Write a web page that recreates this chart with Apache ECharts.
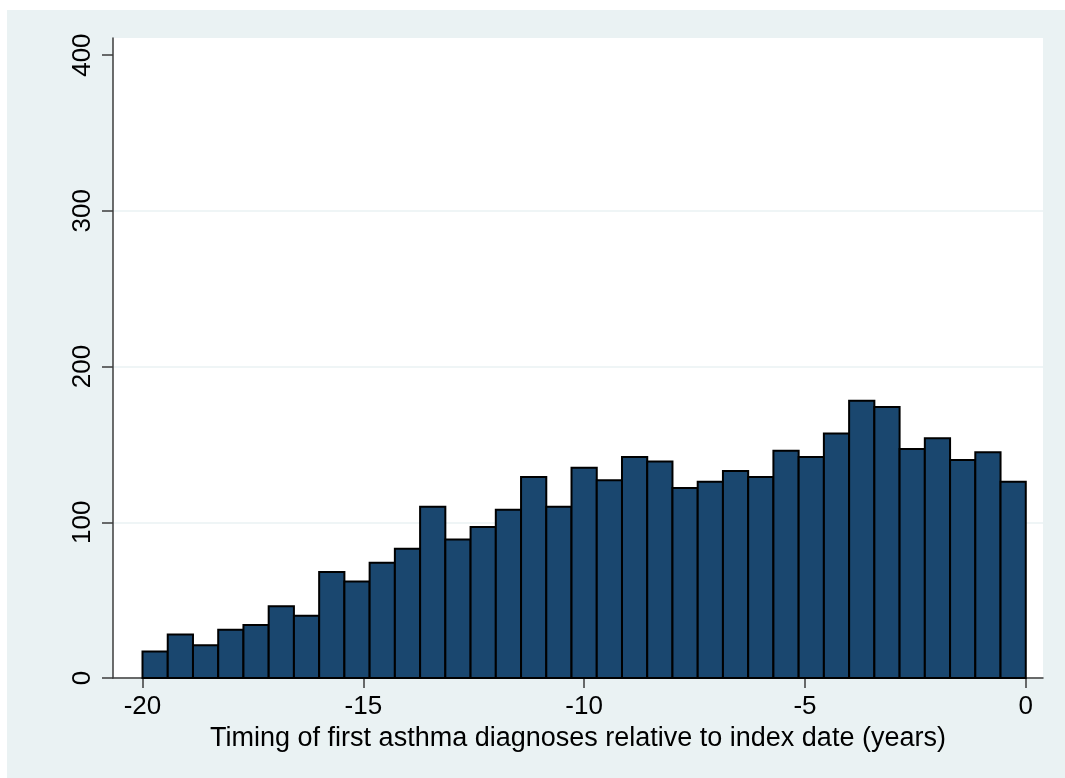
<!DOCTYPE html>
<html>
<head>
<meta charset="utf-8">
<script src="https://cdn.jsdelivr.net/npm/echarts@6/dist/echarts.min.js"></script>
<style>
html,body{margin:0;padding:0;background:#ffffff;}
#chart{width:1065px;height:778px;}
</style>
</head>
<body>
<div id="chart"></div>
<script>
// Histogram: 35 equal-width bins from -20 to 0 years
const binStart = -20;
const binEnd = 0;
const counts = [17, 28, 21, 31, 34, 46, 40, 68, 62, 74, 83, 110, 89, 97, 108, 129, 110, 135, 127, 142, 139, 122, 126, 133, 129, 146, 142, 157, 178, 174, 147, 154, 140, 145, 126];
const xTicks = [-20, -15, -10, -5, 0];
const yTicks = [0, 100, 200, 300, 400];
const xTitle = 'Timing of first asthma diagnoses relative to index date (years)';

const binWidth = (binEnd - binStart) / counts.length;
const histData = counts.map((c, i) => [binStart + i * binWidth, binStart + (i + 1) * binWidth, c]);

const FONT = "'Liberation Sans', Arial, sans-serif";
const chart = echarts.init(document.getElementById('chart'), null, {renderer: 'canvas'});
chart.setOption({
  animation: false,
  backgroundColor: '#ffffff',
  graphic: [{
    type: 'rect', z: -10, silent: true,
    shape: {x: 7, y: 10, width: 1058, height: 768},
    style: {fill: '#eaf2f3'}
  }],
  grid: {
    show: true, backgroundColor: '#ffffff', borderWidth: 0,
    left: 113, top: 38, right: 22, bottom: 100
  },
  xAxis: {
    type: 'value', min: -20.668, max: 0.39,
    name: xTitle, nameLocation: 'middle', nameGap: 42,
    nameTextStyle: {fontFamily: FONT, fontSize: 27, color: '#000'},
    axisLine: {show: true, onZero: false, lineStyle: {color: '#3c3c3c', width: 1.5}},
    axisTick: {show: true, length: 10, customValues: xTicks, lineStyle: {color: '#3c3c3c', width: 1.5}},
    axisLabel: {customValues: xTicks, fontFamily: FONT, fontSize: 26, color: '#000', margin: 16},
    splitLine: {show: false}
  },
  yAxis: {
    type: 'value', min: 0, max: 411,
    axisLine: {show: true, onZero: false, lineStyle: {color: '#3c3c3c', width: 1.5}},
    axisTick: {show: true, length: 11, customValues: yTicks, lineStyle: {color: '#3c3c3c', width: 1.5}},
    axisLabel: {customValues: yTicks, rotate: 90, fontFamily: FONT, fontSize: 26, color: '#000', margin: 17},
    splitLine: {show: true, lineStyle: {color: ['#eaf2f3', '#eaf2f3', '#eaf2f3', '#eaf2f3', 'rgba(0,0,0,0)'], width: 1.5}}
  },
  series: [{
    type: 'custom',
    data: histData,
    encode: {x: [0, 1], y: 2},
    renderItem: function (params, api) {
      const p0 = api.coord([api.value(0), 0]);
      const p1 = api.coord([api.value(1), api.value(2)]);
      return {
        type: 'rect',
        shape: {x: p0[0], y: p1[1], width: p1[0] - p0[0], height: p0[1] - p1[1]},
        style: {fill: '#1a476f', stroke: '#000000', lineWidth: 2}
      };
    }
  }]
});
</script>
</body>
</html>
